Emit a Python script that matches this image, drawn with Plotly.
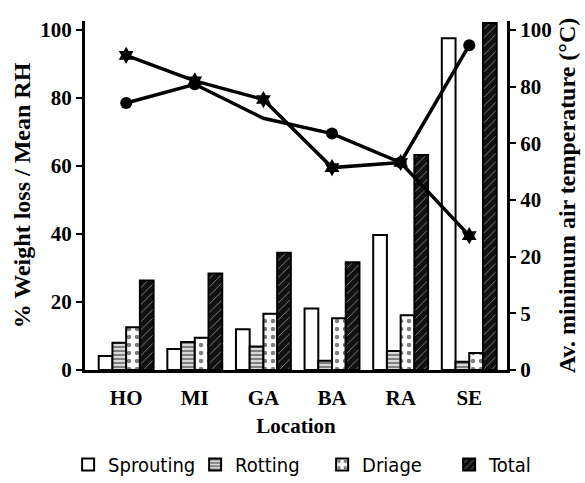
import plotly.graph_objects as go

locations = ["HO", "MI", "GA", "BA", "RA", "SE"]
sprouting = [4.1, 6.2, 12.0, 18.1, 39.7, 97.5]
rotting = [8.0, 8.2, 6.9, 2.7, 5.6, 2.4]
driage = [12.6, 9.5, 16.5, 15.2, 16.1, 5.0]
total = [26.3, 28.4, 34.5, 31.7, 63.2, 102.0]

rh_circle = [78.5, 84.0, 74.0, 69.5, 61.0, 95.5]
temp_star = [92.5, 85.0, 79.5, 59.5, 61.0, 39.5]

left_ticks = [0, 20, 40, 60, 80, 100]
right_ticktext = ["0", "5", "20", "40", "60", "80", "100"]

serif = "Liberation Serif"
fig = go.Figure()

fig.add_trace(go.Bar(x=locations, y=sprouting, name="Sprouting",
                     marker=dict(color="white", line=dict(color="black", width=2))))
fig.add_trace(go.Bar(x=locations, y=rotting, name="Rotting",
                     marker=dict(color="white", line=dict(color="black", width=2),
                                 pattern=dict(shape="-", fgcolor="black", bgcolor="white",
                                              size=4, solidity=0.65))))
fig.add_trace(go.Bar(x=locations, y=driage, name="Driage",
                     marker=dict(color="white", line=dict(color="black", width=2),
                                 pattern=dict(shape=".", fgcolor="black", bgcolor="white",
                                              size=8, solidity=0.25))))
fig.add_trace(go.Bar(x=locations, y=total, name="Total",
                     marker=dict(color="black", line=dict(color="black", width=2),
                                 pattern=dict(shape="/", fgcolor="white", bgcolor="#111",
                                              size=6, solidity=0.15))))

fig.add_trace(go.Scatter(x=locations, y=rh_circle, mode="lines+markers", showlegend=False,
                         line=dict(color="black", width=3.5),
                         marker=dict(symbol="circle", color="black", opacity=1,
                                     line=dict(width=0),
                                     size=[12 if i != 2 else 0 for i in range(len(locations))])))
fig.add_trace(go.Scatter(x=locations, y=temp_star, mode="lines+markers", showlegend=False,
                         line=dict(color="black", width=3.5),
                         marker=dict(symbol="hexagram", color="black", size=13, opacity=1,
                                     line=dict(width=0))))

# invisible trace to activate right axis
fig.add_trace(go.Scatter(x=[locations[0]], y=[0], yaxis="y2", mode="markers",
                         marker=dict(opacity=0), showlegend=False, hoverinfo="skip"))

ymax = 102.6
fig.update_layout(
    width=585, height=483,
    margin=dict(l=85, r=78, t=21, b=113, autoexpand=False),
    paper_bgcolor="white", plot_bgcolor="white",
    barmode="group", bargap=0.2, bargroupgap=0.0,
    showlegend=True,
    legend=dict(orientation="h", x=-0.04, xanchor="left", xref="paper",
                y=-0.215, yanchor="top", yref="paper",
                font=dict(family="DejaVu Sans Condensed", size=20, color="black"),
                entrywidth=82, entrywidthmode="pixels",
                itemwidth=30, tracegroupgap=0, bgcolor="rgba(0,0,0,0)"),
    xaxis=dict(range=[-0.6, 5.55], showline=True, linecolor="black", linewidth=3,
               ticks="outside", ticklen=7, tickcolor="rgba(0,0,0,0)", showgrid=False,
               automargin=False,
               tickfont=dict(family=serif, size=21, color="black", weight="bold"),
               title=dict(text="<b>Location</b>", standoff=10,
                          font=dict(family=serif, size=21, color="black"))),
    yaxis=dict(range=[0, ymax], tickvals=left_ticks, showline=True, linecolor="black",
               linewidth=3, ticks="outside", ticklen=6, tickwidth=2, tickcolor="black",
               showgrid=False, zeroline=False, automargin=False,
               tickfont=dict(family=serif, size=21, color="black", weight="bold"),
               title=dict(text="<b>% Weight loss / Mean RH</b>", standoff=3,
                          font=dict(family=serif, size=24, color="black"))),
    yaxis2=dict(range=[0, ymax], overlaying="y", side="right",
                tickvals=[i * 100 / 6 for i in range(len(right_ticktext))],
                ticktext=right_ticktext, showline=True, linecolor="black", linewidth=3,
                ticks="outside", ticklen=6, tickwidth=2, tickcolor="black",
                showgrid=False, zeroline=False, automargin=False,
                tickfont=dict(family=serif, size=21, color="black", weight="bold"),
                title=dict(text="<b>Av. minimum air temperature (°C)</b>", standoff=8,
                           font=dict(family=serif, size=24, color="black"))),
)

fig.write_html("out.html")
